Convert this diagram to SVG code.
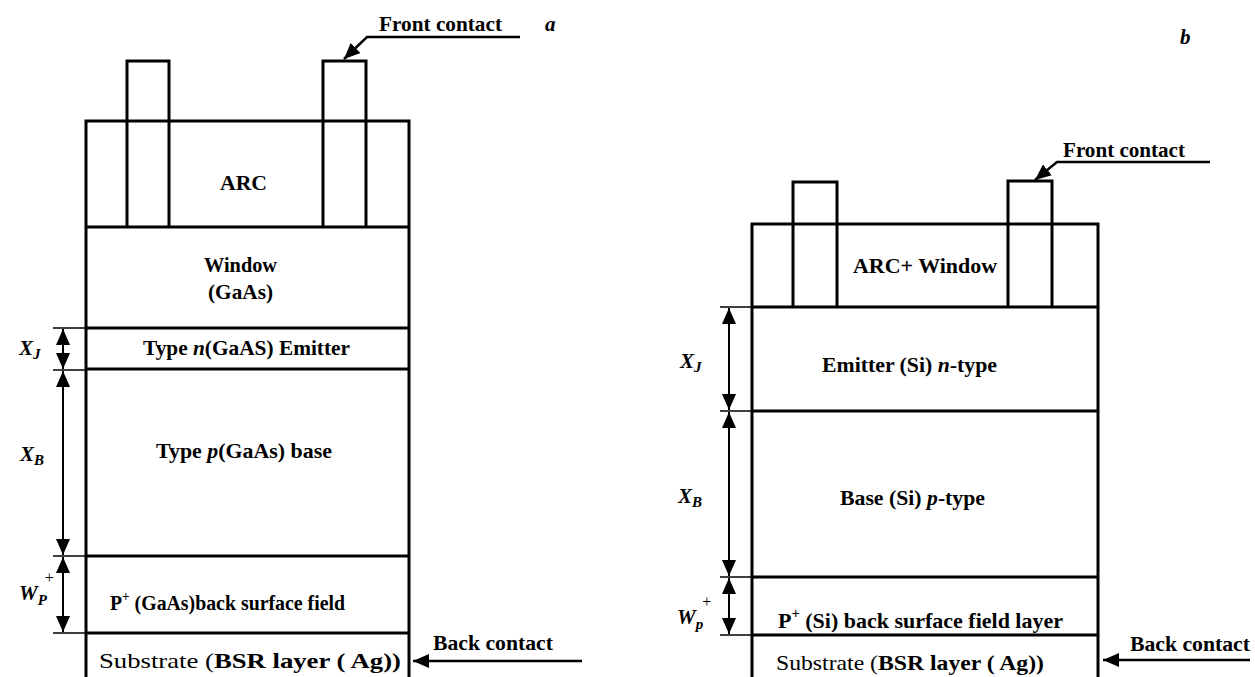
<svg xmlns="http://www.w3.org/2000/svg" width="1255" height="677" viewBox="0 0 1255 677">
<defs>
<style>
.box{fill:none;stroke:#000;stroke-width:3}
.tick{stroke:#000;stroke-width:1.5}
.dim{stroke:#000;stroke-width:2;fill:none;marker-start:url(#ah);marker-end:url(#ah)}
.lead{stroke:#000;stroke-width:2.5;fill:none;marker-end:url(#ah)}
.t{font-family:"Liberation Serif","Times New Roman",serif;font-weight:bold;font-size:21px;fill:#000}
.i{font-style:italic}
.n{font-weight:normal}
</style>
<marker id="ah" viewBox="0 0 16 14" refX="16" refY="7" markerWidth="16" markerHeight="14" markerUnits="userSpaceOnUse" orient="auto-start-reverse">
<path d="M0,0 L16,7 L0,14 z" fill="#000"/>
</marker>
</defs>

<g id="panel-a">
<g id="a-contacts">
<polyline class="box" points="127,227 127,61 169,61 169,227"/>
<polyline class="box" points="323,227 323,61 366,61 366,227"/>
</g>
<g id="a-stack">
<polyline class="box" points="86,677 86,121 409,121 409,677"/>
<line class="box" x1="86" y1="227" x2="409" y2="227"/>
<line class="box" x1="86" y1="328" x2="409" y2="328"/>
<line class="box" x1="86" y1="369" x2="409" y2="369"/>
<line class="box" x1="86" y1="556" x2="409" y2="556"/>
<line class="box" x1="86" y1="633" x2="409" y2="633"/>
</g>
<g id="a-arc"><text class="t" x="220" y="190" textLength="47" lengthAdjust="spacingAndGlyphs">ARC</text></g>
<g id="a-window"><text class="t" x="204" y="272" textLength="73" lengthAdjust="spacingAndGlyphs">Window</text><text class="t" x="208" y="299" textLength="65" lengthAdjust="spacingAndGlyphs">(GaAs)</text></g>
<g id="a-emitter"><text class="t" x="143" y="355" textLength="207" lengthAdjust="spacingAndGlyphs">Type <tspan class="i">n</tspan>(GaAS) Emitter</text></g>
<g id="a-base"><text class="t" x="156" y="458" textLength="176" lengthAdjust="spacingAndGlyphs">Type <tspan class="i">p</tspan>(GaAs) base</text></g>
<g id="a-bsf"><text class="t" x="110" y="610" textLength="235" lengthAdjust="spacingAndGlyphs">P<tspan font-size="14" dy="-9">+</tspan><tspan dy="9"> (GaAs)back surface field</tspan></text></g>
<g id="a-substrate"><text class="t" x="99" y="668" textLength="302" lengthAdjust="spacingAndGlyphs"><tspan class="n">Substrate (</tspan>BSR layer ( Ag))</text></g>
<g id="a-front-label"><text class="t" x="379" y="31" textLength="123" lengthAdjust="spacingAndGlyphs">Front contact</text><text class="t i" x="545" y="31">a</text></g>
<g id="a-back-label"><text class="t" x="433" y="650" textLength="120" lengthAdjust="spacingAndGlyphs">Back contact</text></g>
<g id="a-dims">
<line class="tick" x1="53" y1="328" x2="86" y2="328"/>
<line class="tick" x1="53" y1="370" x2="86" y2="370"/>
<line class="tick" x1="53" y1="556" x2="86" y2="556"/>
<line class="tick" x1="53" y1="633" x2="86" y2="633"/>
<text class="t i" x="19" y="355">X<tspan font-size="15" dy="4">J</tspan></text>
<text class="t i" x="20" y="461">X<tspan font-size="15" dy="4">B</tspan></text>
<text class="t i" x="19" y="600">W<tspan font-size="15" dy="5">P</tspan><tspan class="n" font-style="normal" font-size="16" dx="-2" dy="-22">+</tspan></text>
</g>
</g>

<g id="panel-b">
<g id="b-contacts">
<polyline class="box" points="793,307 793,182 837,182 837,307"/>
<polyline class="box" points="1008,307 1008,181 1052,181 1052,307"/>
</g>
<g id="b-stack">
<polyline class="box" points="752,677 752,224 1098,224 1098,677"/>
<line class="box" x1="752" y1="307" x2="1098" y2="307"/>
<line class="box" x1="752" y1="411" x2="1098" y2="411"/>
<line class="box" x1="752" y1="577" x2="1098" y2="577"/>
<line class="box" x1="752" y1="635" x2="1098" y2="635"/>
</g>
<g id="b-arcwin"><text class="t" x="853" y="273" textLength="144" lengthAdjust="spacingAndGlyphs">ARC+ Window</text></g>
<g id="b-emitter"><text class="t" x="822" y="372" textLength="175" lengthAdjust="spacingAndGlyphs">Emitter (Si) <tspan class="i">n</tspan>-type</text></g>
<g id="b-base"><text class="t" x="840" y="505" textLength="145" lengthAdjust="spacingAndGlyphs">Base (Si) <tspan class="i">p</tspan>-type</text></g>
<g id="b-bsf"><text class="t" x="778" y="628" textLength="285" lengthAdjust="spacingAndGlyphs">P<tspan font-size="14" dy="-10">+</tspan><tspan dy="10"> (Si) back surface field layer</tspan></text></g>
<g id="b-substrate"><text class="t" x="776" y="670" textLength="268" lengthAdjust="spacingAndGlyphs"><tspan class="n">Substrate (</tspan>BSR layer ( Ag))</text></g>
<g id="b-front-label"><text class="t" x="1063" y="157" textLength="122" lengthAdjust="spacingAndGlyphs">Front contact</text><text class="t i" x="1180" y="44">b</text></g>
<g id="b-back-label"><text class="t" x="1130" y="651" textLength="120" lengthAdjust="spacingAndGlyphs">Back contact</text></g>
<g id="b-dims">
<line class="tick" x1="720" y1="307" x2="752" y2="307"/>
<line class="tick" x1="720" y1="411" x2="752" y2="411"/>
<line class="tick" x1="720" y1="577" x2="752" y2="577"/>
<line class="tick" x1="720" y1="635" x2="752" y2="635"/>
<text class="t i" x="680" y="368">X<tspan font-size="15" dy="4">J</tspan></text>
<text class="t i" x="678" y="503">X<tspan font-size="15" dy="4">B</tspan></text>
<text class="t i" x="677" y="624">W<tspan font-size="15" dy="5">p</tspan><tspan class="n" font-style="normal" font-size="16" dx="-1" dy="-22">+</tspan></text>
</g>
</g>

<g id="connectors">
<line class="dim" x1="63" y1="329" x2="63" y2="369"/>
<line class="dim" x1="63" y1="371" x2="63" y2="555"/>
<line class="dim" x1="63" y1="557" x2="63" y2="632"/>
<line class="dim" x1="729" y1="308" x2="729" y2="410"/>
<line class="dim" x1="729" y1="412" x2="729" y2="576"/>
<line class="dim" x1="729" y1="578" x2="729" y2="634"/>
<polyline class="lead" points="520,37 367,37 344,59"/>
<polyline class="lead" points="1210,162 1057,162 1035,180"/>
<line class="lead" x1="582" y1="661" x2="413" y2="661"/>
<line class="lead" x1="1250" y1="660" x2="1103" y2="660"/>
</g>
</svg>
